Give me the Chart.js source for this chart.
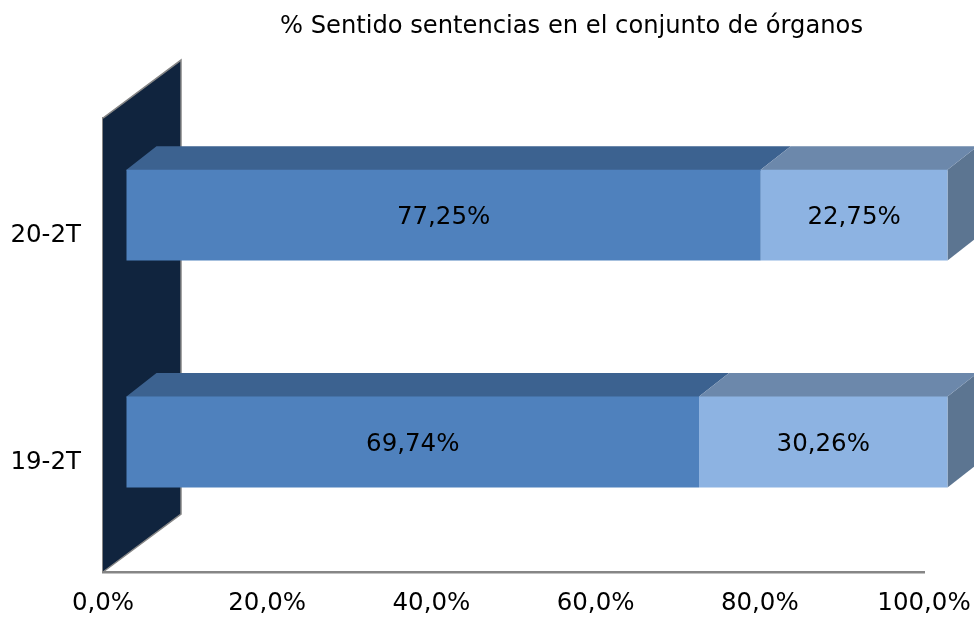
<!DOCTYPE html>
<html>
<head>
<meta charset="utf-8">
<style>
  html, body { margin: 0; padding: 0; background: #fff; }
  #wrap { width: 974px; height: 619px; }
</style>
</head>
<body>
<div id="wrap"><canvas id="chart"></canvas></div>
<script src="https://cdn.jsdelivr.net/npm/chart.js@4/dist/chart.umd.min.js"></script>
<script>
const titleText = "% Sentido sentencias en el conjunto de órganos";
const categories = ["20-2T", "19-2T"];
const firstValues = [77.25, 69.74];
const secondValues = [22.75, 30.26];
const xTickLabels = ["0,0%", "20,0%", "40,0%", "60,0%", "80,0%", "100,0%"];

const fontFamily = '"DejaVu Sans", Verdana, sans-serif';
const front = ["#4f81bd", "#8db3e2"];
const top3d = ["#3c6290", "#6c88ab"];
const sideColor = "#5c7591";
const wallColor = "#10243e";
const edgeColor = "#868686";

// shift of the bars off the front plane, and depth of the boxes and of the wall
const barShift = { x: 23.5, y: -16.5 };
const barDepth = { x: 30, y: -23.5 };
const wallDepth = { x: 78, y: -58 };

function poly(ctx, pts, fill) {
  ctx.beginPath();
  ctx.moveTo(pts[0][0], pts[0][1]);
  pts.slice(1).forEach((p) => ctx.lineTo(p[0], p[1]));
  ctx.closePath();
  ctx.fillStyle = fill;
  ctx.fill();
}

const fake3d = {
  id: "fake3d",
  afterLayout(chart) {
    // the title is not centred on the canvas in the original
    chart.titleBlock.left = 219;
  },
  beforeDatasetsDraw(chart) {
    const ctx = chart.ctx;
    const a = chart.chartArea;
    const wall = [
      [a.left, a.top],
      [a.left + wallDepth.x, a.top + wallDepth.y],
      [a.left + wallDepth.x, a.bottom + wallDepth.y],
      [a.left, a.bottom],
    ];
    poly(ctx, wall, wallColor);
    ctx.strokeStyle = edgeColor;
    ctx.lineWidth = 1.5;
    ctx.beginPath();
    ctx.moveTo(wall[0][0], wall[0][1]);
    ctx.lineTo(wall[1][0], wall[1][1]);
    ctx.lineTo(wall[2][0], wall[2][1]);
    ctx.lineTo(wall[3][0], wall[3][1]);
    ctx.stroke();

    ctx.save();
    ctx.translate(barShift.x, barShift.y);
    chart.data.datasets.forEach((ds, i) => {
      chart.getDatasetMeta(i).data.forEach((el) => {
        const yTop = el.y - el.height / 2;
        const yBottom = el.y + el.height / 2;
        if (i === chart.data.datasets.length - 1) {
          poly(ctx, [
            [el.x, yTop],
            [el.x + barDepth.x, yTop + barDepth.y],
            [el.x + barDepth.x, yBottom + barDepth.y],
            [el.x, yBottom],
          ], sideColor);
        }
        // one pixel under the front face so the wall does not show at the seam
        poly(ctx, [
          [el.base, yTop + 1],
          [el.x, yTop + 1],
          [el.x, yTop],
          [el.x + barDepth.x, yTop + barDepth.y],
          [el.base + barDepth.x, yTop + barDepth.y],
          [el.base, yTop],
        ], top3d[i]);
      });
    });
  },
  afterDatasetsDraw(chart) {
    const ctx = chart.ctx;
    ctx.font = "24.5px " + fontFamily;
    ctx.fillStyle = "#000";
    ctx.textAlign = "center";
    ctx.textBaseline = "middle";
    chart.data.datasets.forEach((ds, i) => {
      chart.getDatasetMeta(i).data.forEach((el, j) => {
        const label = ds.data[j].toFixed(2).replace(".", ",") + "%";
        ctx.fillText(label, (el.base + el.x) / 2, el.y + 2.5);
      });
    });
    ctx.restore();
  },
};

new Chart(document.getElementById("chart"), {
  type: "bar",
  data: {
    labels: categories,
    datasets: [
      { data: firstValues, backgroundColor: front[0], clip: false },
      { data: secondValues, backgroundColor: front[1], clip: false },
    ],
  },
  options: {
    indexAxis: "y",
    responsive: true,
    maintainAspectRatio: false,
    animation: false,
    categoryPercentage: 1,
    barPercentage: 0.4,
    layout: { padding: { right: 50 } },
    plugins: {
      legend: { display: false },
      tooltip: { enabled: false },
      title: {
        display: true,
        text: titleText,
        color: "#000",
        font: { family: fontFamily, size: 24.2, weight: "normal" },
        padding: { top: 12, bottom: 77 },
      },
    },
    scales: {
      x: {
        stacked: true,
        min: 0,
        max: 100,
        afterFit(scale) {
          scale.height = 47;
          scale.paddingLeft = 0;
          scale.paddingRight = 0;
        },
        grid: { display: false, drawTicks: false },
        border: { display: true, color: edgeColor, width: 2.5 },
        ticks: {
          stepSize: 20,
          autoSkip: false,
          maxRotation: 0,
          padding: 17,
          color: "#000",
          font: { family: fontFamily, size: 24.5 },
          callback: (v, i) => xTickLabels[i],
        },
      },
      y: {
        stacked: true,
        afterFit(scale) { scale.width = 103; },
        grid: { display: false, drawTicks: false },
        border: { display: true, color: edgeColor, width: 2.5 },
        ticks: {
          padding: 22,
          labelOffset: 4,
          color: "#000",
          font: { family: fontFamily, size: 24.5 },
        },
      },
    },
  },
  plugins: [fake3d],
});
</script>
</body>
</html>
